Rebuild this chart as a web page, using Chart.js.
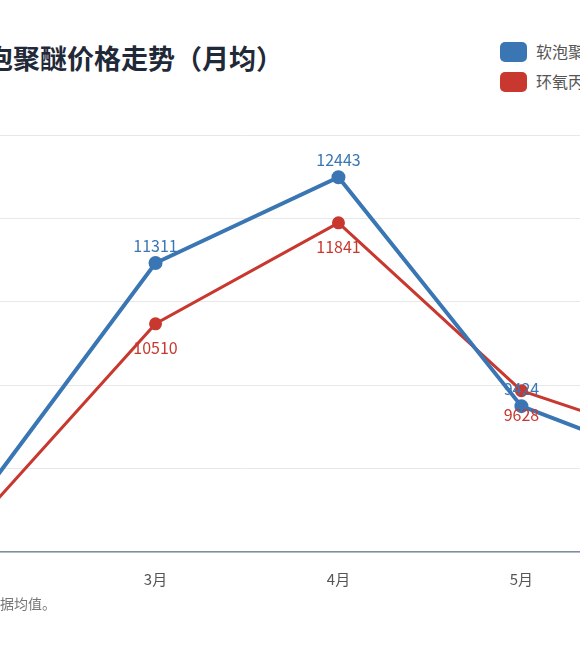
<!DOCTYPE html>
<html><head><meta charset="utf-8">
<script src="https://cdn.jsdelivr.net/npm/chart.js@4"></script>
<style>
html,body{margin:0;padding:0;background:#fff;overflow:hidden;width:580px;height:665px;position:relative;font-family:"Noto Sans CJK SC","Noto Sans",sans-serif}
#title{position:absolute;left:-176px;top:38px;font-size:27px;font-weight:bold;color:#1f2937;white-space:nowrap}
#legend{position:absolute;left:500px;top:36px;font-size:16px;color:#555;white-space:nowrap}
#legend div{height:30px;line-height:30px}
#legend span.sw{display:inline-block;width:27px;height:20px;border-radius:5px;vertical-align:middle;margin-right:9px;position:relative;top:-2px}
#wrap{position:absolute;left:-240px;top:100px;width:974px;height:506px}
#note{position:absolute;left:-112px;top:593px;font-size:14px;color:#777;white-space:nowrap}
</style></head><body>
<div id="title">环氧丙烷与软泡聚醚价格走势（月均）</div>
<div id="legend"><div><span class="sw" style="background:#3a76b4"></span>软泡聚醚</div><div><span class="sw" style="background:#c8382f"></span>环氧丙烷</div></div>
<div id="wrap"><canvas id="c"></canvas></div>
<div id="note">注：价格为各月数据均值。</div>
<script>
const months = ["1月","2月","3月","4月","5月","6月"];
const polyether = [9000, 8070, 11311, 12443, 9424, 8500];
const propyleneOxide = [8600, 7830, 10510, 11841, 9628, 8820];
const seriesNames = ["软泡聚醚","环氧丙烷"];
const blue = "#3a76b4", red = "#c8382f";

const labelPlugin = {
  id: "vals",
  afterDatasetsDraw(chart) {
    const ctx = chart.ctx;
    ctx.save();
    ctx.font = "16px 'Noto Sans CJK SC', 'Noto Sans', sans-serif";
    ctx.textAlign = "center";
    chart.data.datasets.forEach((ds, i) => {
      const meta = chart.getDatasetMeta(i);
      ctx.fillStyle = ds.borderColor;
      meta.data.forEach((pt, j) => {
        if (i === 0) { ctx.textBaseline = "bottom"; ctx.fillText(ds.data[j], pt.x, pt.y - 9); }
        else { ctx.textBaseline = "top"; ctx.fillText(ds.data[j], pt.x, pt.y + 16); }
      });
    });
    ctx.restore();
  }
};

new Chart(document.getElementById("c"), {
  type: "line",
  data: {
    labels: months,
    datasets: [
      { label: seriesNames[0], data: polyether, borderColor: blue, backgroundColor: blue, borderWidth: 4, pointRadius: 5, tension: 0 },
      { label: seriesNames[1], data: propyleneOxide, borderColor: red, backgroundColor: red, borderWidth: 3, pointRadius: 5, tension: 0 }
    ]
  },
  options: {
    responsive: true, maintainAspectRatio: false, animation: false,
    layout: { padding: { left: 10, right: 10, top: 35, bottom: 0 } },
    plugins: { legend: { display: false }, tooltip: { enabled: false } },
    scales: {
      x: {
        grid: { display: false, drawTicks: false },
        border: { color: "#7d8ea3", width: 1.5 },
        ticks: { padding: 18, color: "#555", font: { size: 15, family: "'Noto Sans CJK SC', sans-serif" } }
      },
      y: {
        min: 7500, max: 13000,
        ticks: { stepSize: 1100, display: false },
        border: { display: false },
        grid: { color: "#e8e8e8", drawTicks: false }
      }
    }
  },
  plugins: [labelPlugin]
});
</script>
</body></html>
